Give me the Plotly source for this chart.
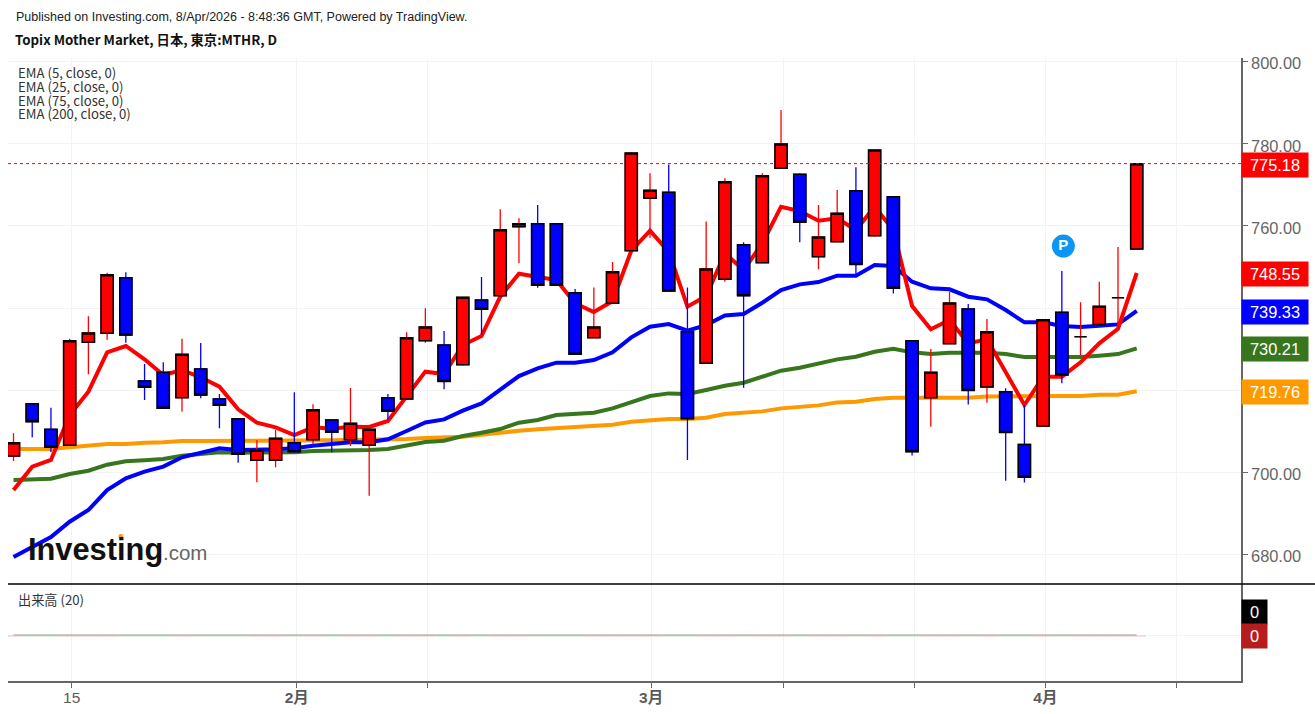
import plotly.graph_objects as go

# daily candles, red = up, blue = down
opens = [703.99,716.74,710.49,706.59,731.67,733.86,747.42,722.26,724.37,718.20,725.18,717.87,713.08,702.94,702.94,707.24,707.97,712.76,707.97,706.59,
         718.20,717.87,732.08,731.01,726.22,741.97,743.02,759.83,760.56,760.56,743.75,732.80,741.16,753.98,766.73,768.19,734.26,726.55,747.00,755.44,
         751.06,774.03,772.57,752.52,756.17,768.59,757.63,767.13,732.07,718.19,731.34,739.78,720.78,719.65,706.82,711.29,738.97,733.04,736.04,742.54,754.39]
highs = [709.51,716.74,715.76,732.56,738.00,748.64,748.72,726.40,726.80,732.56,731.51,719.09,713.08,707.81,710.32,719.50,716.57,712.92,720.55,710.49,
         719.09,734.11,739.95,734.42,742.78,747.57,764.05,761.86,765.10,760.56,744.65,745.05,751.22,777.93,772.81,775.00,745.05,761.12,771.60,756.01,
         772.81,788.23,772.81,765.10,768.75,774.27,778.66,767.13,732.07,730.04,744.00,740.99,737.34,720.46,716.40,737.18,749.03,741.40,746.43,754.87,775.18]
lows = [702.78,708.54,704.89,706.59,723.88,732.32,731.59,717.63,715.60,714.79,718.03,710.73,702.37,697.58,701.23,704.80,706.91,704.89,706.43,694.33,
        712.92,717.87,731.59,720.22,725.98,733.61,743.02,750.90,744.97,745.54,728.74,732.80,741.16,753.98,757.15,744.16,703.01,726.55,746.43,720.62,
        751.06,774.03,756.01,749.44,756.01,748.22,757.39,743.59,704.14,711.12,731.34,716.56,716.97,697.98,697.57,711.29,721.68,728.58,736.04,735.07,754.39]
closes = [707.24,712.35,706.10,732.08,733.94,748.15,733.46,720.71,715.60,728.75,718.85,716.33,704.40,705.37,708.29,705.05,715.28,709.76,711.95,710.49,
          714.87,732.81,735.40,722.16,742.62,739.70,759.10,760.56,745.54,745.54,728.74,735.39,748.87,777.76,768.67,744.16,713.07,749.52,770.78,743.02,
          772.24,779.96,760.88,757.31,763.07,750.65,778.49,744.81,705.04,724.36,741.24,719.97,734.26,709.74,698.79,737.18,723.71,733.04,740.43,742.54,775.18]

ema5 = [695.71,701.40,703.02,713.98,719.66,729.24,730.78,727.53,723.72,724.93,723.15,720.88,715.36,712.11,710.97,709.11,710.97,710.65,711.14,711.05,
        712.52,718.44,724.53,723.95,731.01,733.20,742.78,748.38,747.65,746.84,741.16,739.05,741.72,753.98,758.85,753.74,740.35,742.94,753.33,749.27,
        755.77,764.70,763.64,761.29,761.86,759.01,764.70,759.01,740.51,734.83,737.10,731.42,732.39,724.52,716.40,723.30,723.30,726.79,731.42,734.99,748.55]
ema25 = [679.40,681.80,684.27,688.00,690.84,695.71,698.55,700.18,701.40,703.67,704.80,705.86,705.45,705.45,705.61,705.86,706.51,706.91,707.32,707.32,
         708.05,710.08,712.15,712.91,715.02,716.81,720.05,723.46,725.33,726.71,726.71,727.36,729.23,732.88,735.48,736.12,734.50,735.88,738.23,738.56,
         741.32,744.40,745.78,746.35,747.89,747.89,750.49,750.25,746.43,744.81,744.57,742.78,742.13,739.53,736.53,736.53,735.64,735.39,735.72,736.04,739.33]
ema75 = [698.15,698.39,698.47,699.61,700.42,701.88,702.69,702.94,703.26,704.07,704.48,704.89,704.80,704.80,704.80,704.89,705.21,705.21,705.45,705.45,
         705.70,706.67,707.40,707.72,708.85,709.66,710.56,712.10,712.75,713.97,714.21,714.53,715.59,717.21,718.59,719.24,719.08,720.05,721.11,721.84,
         723.30,724.76,725.49,726.55,727.52,728.17,729.39,730.12,729.23,728.82,729.14,729.14,729.14,728.82,728.09,728.09,728.09,728.09,728.41,728.82,730.21]
ema200 = [705.70,705.70,705.70,706.10,706.51,706.91,706.91,707.24,707.32,707.64,707.64,707.64,707.64,707.64,707.64,707.73,707.81,707.81,707.89,707.89,
          707.97,708.13,708.38,708.45,708.69,709.18,709.74,710.15,710.48,710.80,710.88,711.29,711.61,712.34,712.67,712.99,712.99,713.32,714.21,714.53,
          714.86,715.59,715.99,716.32,717.05,717.21,717.86,718.19,718.19,718.19,718.19,718.19,718.51,718.59,718.59,718.59,718.59,718.59,718.92,718.92,719.76]

volumes = [0] * 61
volume_ma = [0.0103] * 61  # shows as 0, sits one pixel over the bars

pivot_x = [56.08]
pivot_y = [755.1]

price_ticks = [680, 700, 720, 740, 760, 780, 800]
time_ticks = [3.11, 15.13, 22.13, 34.06, 41.12, 48.12, 55.12, 62.12]
time_labels = ["15", "<b>2月</b>", "", "<b>3月</b>", "", "", "<b>4月</b>", ""]
ema_labels = ["EMA (5, close, 0)", "EMA (25, close, 0)", "EMA (75, close, 0)", "EMA (200, close, 0)"]

# page pixels to paper coords
W, H = 1315, 714
L, R, T, B = 8, 1241, 58, 681
SPLIT = 584
def px(x):
    return (x - L) / (R - L)
def py(y):
    return (B - y) / (B - T)

LATIN = "Liberation Sans, Arial, sans-serif"
CJK = "Noto Sans CJK JP, sans-serif"
GRID = "#f3f3f3"
AXIS = "#666666"
RED, BLUE, GREEN, ORANGE = "#ff0000", "#0000ff", "#38761d", "#ff9900"

y_range = [800 - (SPLIT - 61.7) / 4.107, 800 + (61.7 - T) / 4.107]
x_range = [-0.294, 65.57]
idx = list(range(len(closes)))

fig = go.Figure()

# EMAs sit on the base axis so the candles on y3 draw over them
for vals, col in [(ema200, ORANGE), (ema75, GREEN), (ema25, BLUE), (ema5, RED)]:
    fig.add_trace(go.Scatter(x=idx, y=vals, mode="lines", line=dict(color=col, width=4), xaxis="x", yaxis="y"))

# wicks
fig.add_trace(go.Candlestick(x=idx, open=opens, high=highs, low=lows, close=closes, xaxis="x", yaxis="y3",
    increasing=dict(line=dict(color=RED, width=1.3), fillcolor=RED),
    decreasing=dict(line=dict(color=BLUE, width=1.3), fillcolor=BLUE)))
# bodies, black outline
body_hi = [max(o, c) for o, c in zip(opens, closes)]
body_lo = [min(o, c) for o, c in zip(opens, closes)]
fig.add_trace(go.Candlestick(x=idx, open=opens, high=body_hi, low=body_lo, close=closes, xaxis="x", yaxis="y3",
    increasing=dict(line=dict(color="black", width=1.5), fillcolor=RED),
    decreasing=dict(line=dict(color="black", width=1.5), fillcolor=BLUE)))

fig.add_trace(go.Scatter(x=pivot_x, y=pivot_y, mode="markers+text", text=["<b>P</b>"], textposition="middle center",
    textfont=dict(color="white", size=15, family=LATIN),
    marker=dict(color="#0b96f3", size=23), xaxis="x", yaxis="y3"))

# volume, all zero on this index: one short flat segment per day
up_x, up_y, down_x, down_y = [], [], [], []
for i in idx:
    if closes[i] >= opens[i]:
        up_x += [i - 0.5, i + 0.5, None]
        up_y += [volumes[i], volumes[i], None]
    else:
        down_x += [i - 0.5, i + 0.5, None]
        down_y += [volumes[i], volumes[i], None]
fig.add_trace(go.Scatter(x=up_x, y=up_y, mode="lines", line=dict(color="#f4bcbc", width=1), xaxis="x2", yaxis="y2"))
fig.add_trace(go.Scatter(x=down_x, y=down_y, mode="lines", line=dict(color="#b8e2b8", width=1), xaxis="x2", yaxis="y2"))
fig.add_trace(go.Scatter(x=idx, y=volume_ma, mode="lines", line=dict(color="#9a9a9a", width=1), xaxis="x2", yaxis="y2"))

split = py(SPLIT)
fig.update_layout(
    width=W, height=H,
    margin=dict(l=L, r=W - R, t=T, b=H - B, autoexpand=False),
    paper_bgcolor="white", plot_bgcolor="white",
    showlegend=False, boxmode="overlay", boxgap=0.35, boxgroupgap=0,
    font=dict(family=LATIN, color=AXIS, size=16),
    xaxis=dict(domain=[0, 1], range=x_range, anchor="y", tickvals=time_ticks, showticklabels=False, ticks="",
               showgrid=True, gridcolor=GRID, zeroline=False, rangeslider=dict(visible=False)),
    xaxis2=dict(domain=[0, 1], range=x_range, anchor="y2", matches="x", tickvals=time_ticks, ticktext=time_labels,
                ticks="outside", ticklen=5, tickcolor=AXIS, showgrid=True, gridcolor=GRID, zeroline=False,
                showline=True, linecolor=AXIS, linewidth=1.5, ticklabelstandoff=-3,
                tickfont=dict(family="Liberation Sans, Noto Sans CJK JP", size=15.5, color="#5a5a5a")),
    yaxis=dict(domain=[split, 1], range=y_range, side="right", anchor="x", tickvals=price_ticks,
               ticktext=["%.2f" % p for p in price_ticks], ticks="outside", ticklen=5, tickcolor=AXIS,
               showgrid=True, gridcolor=GRID, zeroline=False, showline=True, linecolor=AXIS, linewidth=1.5,
               ticklabelshift=2, tickfont=dict(size=16.4, color=AXIS)),
    yaxis2=dict(domain=[0, split], range=[-0.464, 0.536], side="right", anchor="x2", tickvals=[0], showticklabels=False,
                ticks="outside", ticklen=5, tickcolor=AXIS, showgrid=True, gridcolor=GRID, zeroline=False,
                showline=True, linecolor=AXIS, linewidth=1.5),
    yaxis3=dict(overlaying="y", range=y_range, side="right", anchor="x", visible=False),
)

# last price line
fig.add_shape(type="line", xref="paper", yref="y", x0=0, x1=1, y0=closes[-1], y1=closes[-1],
              line=dict(color=RED, width=1, dash="dot"))
# pane separator, runs out to the page edge
fig.add_shape(type="line", xref="paper", yref="paper", x0=0, x1=px(W), y0=split, y1=split,
              line=dict(color="black", width=1.5))
# orange dot on the logo's i
fig.add_shape(type="circle", xref="paper", yref="paper", x0=px(118.5), x1=px(123), y0=py(538.5), y1=py(534),
              fillcolor=ORANGE, line=dict(width=0), layer="above")

def label(text, x, y, size, color="#222222", family=LATIN):
    fig.add_annotation(text=text, xref="paper", yref="paper", x=px(x), y=py(y), xanchor="left", yanchor="middle",
                       showarrow=False, font=dict(size=size, color=color, family=family), borderpad=0)

label("Published on Investing.com, 8/Apr/2026 - 8:48:36 GMT, Powered by TradingView.", 15, 17, 12.5)
label("<b>Topix Mother Market, 日本, 東京:MTHR, D</b>", 14, 39.5, 13.3, "#111111", CJK)
for lab, y in zip(ema_labels, [72.5, 86, 100, 113.5]):
    label(lab, 17, y, 13.2, "#333333", CJK)
label("出来高 (20)", 17, 599.5, 13.2, "#333333", CJK)
label("<b>Investing</b>", 27, 549.5, 30.8, "#111111")
label(".com", 162, 552, 20.5, "#666666")

# value tags on the price scale
tags = [(closes[-1], RED), (ema5[-1], RED), (ema25[-1], BLUE), (ema75[-1], GREEN), (ema200[-1], ORANGE)]
for val, col in tags:
    fig.add_annotation(text="%.2f" % val, xref="paper", yref="y", x=1, y=val, xanchor="left", yanchor="middle",
                       width=64, height=22, bgcolor=col, showarrow=False, yshift=-1,
                       font=dict(size=16.4, color="white", family=LATIN))
for col, shift in [("black", 24), ("#b71c1c", 0)]:
    fig.add_annotation(text="%d" % volumes[-1], xref="paper", yref="y2", x=1, y=volumes[-1], xanchor="left", yanchor="middle",
                       width=23, height=22, bgcolor=col, showarrow=False, yshift=shift,
                       font=dict(size=16.4, color="white", family=LATIN))

# the default page margin would push the fixed-size chart off the window
fig.write_html("out.html", config=dict(displayModeBar=False),
               post_script="document.body.style.margin='0';document.body.style.overflow='hidden';")
